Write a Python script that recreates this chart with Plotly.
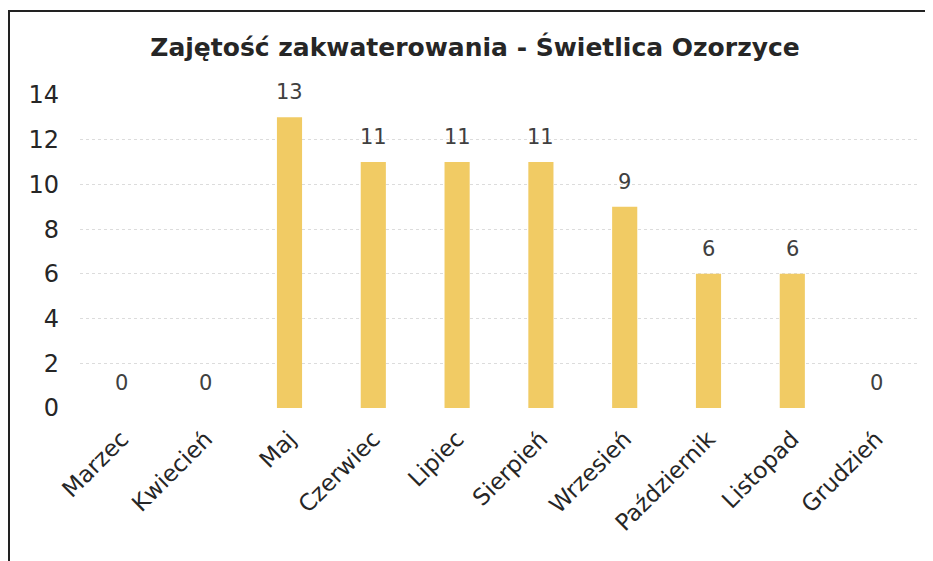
import plotly.graph_objects as go

months = ["Marzec", "Kwiecień", "Maj", "Czerwiec", "Lipiec", "Sierpień",
          "Wrzesień", "Październik", "Listopad", "Grudzień"]
values = [0, 0, 13, 11, 11, 11, 9, 6, 6, 0]
y_ticks = [0, 2, 4, 6, 8, 10, 12, 14]
title_text = "Zajętość zakwaterowania - Świetlica Ozorzyce"

# page body has an 8px margin; figure sized to fit the window
OFF = 8
W, H = 933 - OFF, 561 - OFF
L, R, T, B = 80 - OFF, 15, 95 - OFF, 153

fig = go.Figure(go.Bar(
    x=months, y=values,
    marker=dict(color="#F1CB64", line=dict(width=0)),
    hoverinfo="x+y",
))

for m, v in zip(months, values):
    fig.add_annotation(x=m, y=v, text=str(v), showarrow=False,
                       yanchor="middle", yshift=25,
                       font=dict(family="DejaVu Sans", size=21, color="#404040"))

pw = W - L - R
ph = H - T - B
fig.add_shape(type="rect", xref="paper", yref="paper",
              x0=(1 - L) / pw, x1=(931 - OFF - L) / pw,
              y0=(H - B - 580) / ph, y1=(H - B - (11 - OFF)) / ph,
              line=dict(color="#222222", width=2), fillcolor="rgba(0,0,0,0)",
              layer="above")

fig.update_layout(
    width=W, height=H,
    margin=dict(l=L, r=R, t=T, b=B, pad=0),
    paper_bgcolor="white", plot_bgcolor="white",
    bargap=0.70,
    showlegend=False,
    title=dict(text="<b>" + title_text + "</b>", x=(475 - OFF) / W, xanchor="center",
               y=1 - (47 - OFF) / H, yanchor="middle",
               font=dict(family="DejaVu Sans", size=25, color="#262626")),
    font=dict(family="DejaVu Sans", color="#262626"),
    xaxis=dict(tickangle=-45, tickfont=dict(size=23, color="#262626"),
               showgrid=False, showline=False, ticks="", fixedrange=True,
               ticklabelstandoff=12),
    yaxis=dict(range=[0, 14], tickvals=y_ticks, tickfont=dict(size=24, color="#262626"),
               showgrid=True, gridcolor="#dcdcdc", griddash="dot", gridwidth=1,
               zeroline=False, showline=False, ticks="", ticklabelstandoff=20),
)

fig.write_html("out.html")
